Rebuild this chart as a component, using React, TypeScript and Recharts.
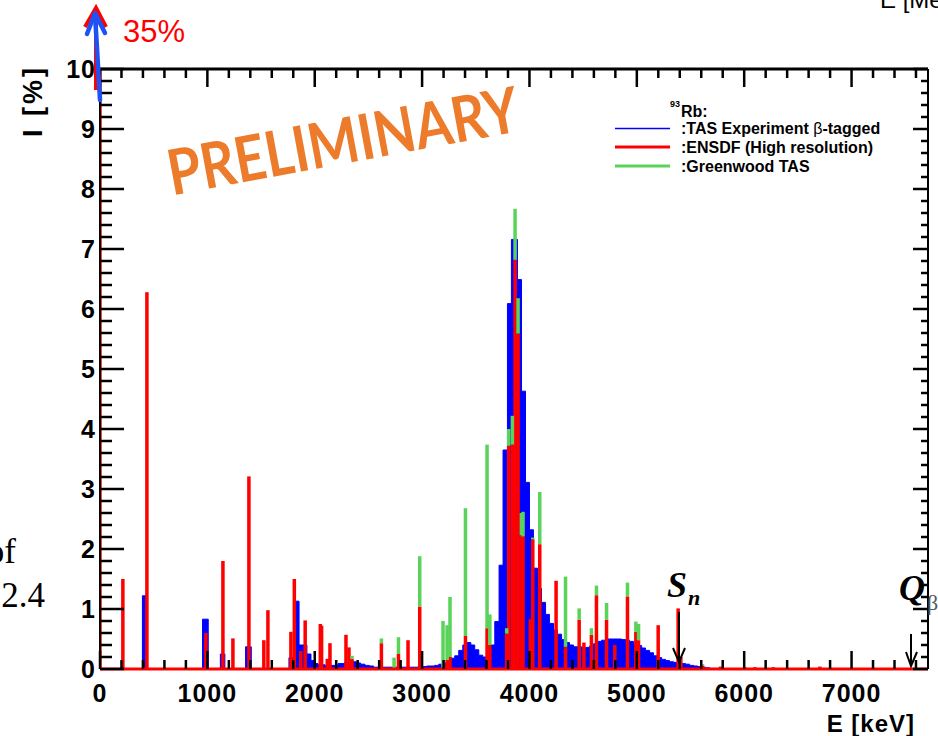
import { ComposedChart, Area, Bar, XAxis, YAxis } from "recharts";

const SANS = '"Liberation Sans", Arial, Helvetica, sans-serif';
const SERIF = '"Liberation Serif", "Times New Roman", serif';

const BLUE = "#0000ff";
const RED = "#ff0000";
const GREEN = "#5ad35a";
const ORANGE = "#ec7b2c";

// TAS experiment (beta-tagged): bin low edge [keV] and intensity [%]
const tasBinStart = [
  0, 395, 433, 955, 1008, 1121, 1163, 1356, 1409, 1760, 1822, 1854, 1927, 1965,
  1997, 2031, 2095, 2217, 2279, 2319, 2359, 2389, 2428, 2468, 2508, 2548, 2965,
  3006, 3043, 3081, 3118, 3155, 3192, 3230, 3267, 3304, 3341, 3379, 3416, 3454,
  3490, 3528, 3565, 3603, 3640, 3677, 3717, 3754, 3795, 3832, 3888, 3926, 3963,
  4000, 4037, 4075, 4112, 4150, 4186, 4224, 4261, 4299, 4336, 4373, 4410, 4448,
  4485, 4522, 4559, 4597, 4634, 4672, 4709, 4746, 4783, 4821, 4858, 4896, 4932,
  4970, 5007, 5045, 5081, 5119, 5156, 5194, 5231, 5268, 5305, 5343, 5380, 5418,
  5454, 5492, 5529, 5567, 5604, 5641, 5678, 5770,
];
const tasIntensity = [
  0, 1.22, 0, 0.83, 0, 0.25, 0, 0.37, 0, 0.19, 1.13, 0.4, 0.25, 0.14,
  0.09, 0.07, 0.06, 0.09, 0.11, 0.13, 0.12, 0.1, 0.08, 0.06, 0.05, 0.03, 0.04,
  0.04, 0.05, 0.05, 0.06, 0.08, 0.1, 0.14, 0.18, 0.22, 0.31, 0.4, 0.44, 0.4,
  0.32, 0.23, 0.2, 0.22, 0.4, 0.79, 1.73, 3.65, 6.09, 7.16, 6.49, 4.63, 3.11,
  2.32, 1.68, 1.34, 1.11, 0.91, 0.76, 0.65, 0.58, 0.49, 0.44, 0.4, 0.37, 0.37,
  0.36, 0.36, 0.38, 0.42, 0.46, 0.48, 0.5, 0.5, 0.5, 0.5, 0.49, 0.48, 0.46,
  0.43, 0.39, 0.35, 0.31, 0.27, 0.22, 0.19, 0.16, 0.14, 0.12, 0.11, 0.1, 0.09,
  0.08, 0.06, 0.05, 0.04, 0.03, 0.02, 0.01, 0,
];

// ENSDF (high resolution) levels [keV] and feeding [%]
const ensdfLevel = [
  0, 213, 437, 986, 1145, 1238, 1387, 1526, 1564, 1778, 1810, 1870, 1911, 2052,
  2064, 2117, 2142, 2291, 2319, 2347, 2621, 2780, 2869, 2978, 3233, 3260, 3404,
  3605, 3631, 3788, 3807, 3841, 3866, 3894, 3925, 3940, 4008, 4031, 4096, 4248,
  4336, 4463, 4507, 4577, 4624, 4718, 4795, 4913, 4991, 5016, 5199, 5385, 5410,
  5612, 5780, 6006, 6100, 6271, 6705,
];
const ensdfIntensity = [
  35, 1.5, 6.28, 0.6, 1.8, 0.51, 3.21, 0.48, 0.98, 0.62, 1.5, 0.3, 0.81, 0.75,
  0.72, 0.17, 0.43, 0.57, 0.36, 0.17, 0.43, 0.25, 0.48, 1.04, 0.15, 0.2, 0.55,
  0.68, 0.4, 0.59, 3.72, 3.74, 6.82, 5.59, 2.23, 2.21, 0.83, 2.16, 2.08, 1.47,
  0.37, 0.82, 0.44, 0.57, 1.23, 0.82, 0.4, 1.21, 0.62, 0.48, 0.73, 1.01, 0.2,
  0.06, 0.04, 0.03, 0.03, 0.03, 0.04,
];

// Greenwood TAS levels [keV] and feeding [%]
const greenwoodLevel = [
  2347, 2621, 2739, 2780, 2978, 3195, 3233, 3260, 3404, 3605, 3631, 3788, 3807,
  3841, 3866, 3894, 3925, 3940, 4031, 4096, 4336, 4463, 4577, 4624, 4718, 4913,
  4991, 5016, 5612,
];
const greenwoodIntensity = [
  0.22, 0.51, 0.19, 0.53, 1.88, 0.8, 0.73, 1.2, 2.68, 3.74, 0.91, 0.68, 4.0,
  4.22, 7.67, 6.18, 2.6, 2.62, 2.19, 2.95, 1.54, 1.01, 0.68, 1.39, 1.1, 1.44,
  0.79, 0.75, 0.08,
];

const xLabels = [0, 1000, 2000, 3000, 4000, 5000, 6000, 7000];
const xTicks = Array.from({ length: 39 }, (_, i) => i * 200);
const yTicks = Array.from({ length: 51 }, (_, i) => i / 5);
const E_MAX = 7712;
const Y_MAX = 10;

// one row per histogram edge or level; green is stacked on top of red
const tasRows = tasBinStart.map((e, i) => ({ e, tas: tasIntensity[i] }));
const levelRows = ensdfLevel.map((e, i) => {
  const j = greenwoodLevel.indexOf(e);
  const red = ensdfIntensity[i];
  const green = j >= 0 ? greenwoodIntensity[j] : 0;
  return { e, ensdf: red, greenwood: Math.max(0, green - red) };
});
const greenOnlyRows = greenwoodLevel
  .map((e, j) => ({ e, ensdf: 0, greenwood: greenwoodIntensity[j] }))
  .filter((r) => !ensdfLevel.includes(r.e));
const data: any[] = [...tasRows, ...levelRows, ...greenOnlyRows].sort(
  (a, b) => a.e - b.e
);

const isWhole = (v: number) => Math.abs(v - Math.round(v)) < 1e-6;

const LevelMark = (props: any) => {
  const { x, y, width, height, fill } = props;
  if (!height || height <= 0) return <g />;
  const w = 3.5;
  return <rect x={x + width / 2 - w / 2} y={y} width={w} height={height} fill={fill} />;
};

const BottomTick = (props: any) => {
  const { x, y, payload } = props;
  const major = xLabels.includes(payload.value);
  return (
    <g>
      <line x1={x} x2={x} y1={y} y2={y - (major ? 18 : 9)} stroke="#000" strokeWidth={2.5} />
      {major && (
        <text x={x} y={y + 33} textAnchor="middle" fontFamily={SANS} fontWeight="bold" fontSize={25} letterSpacing={1} fill="#000">
          {payload.value}
        </text>
      )}
    </g>
  );
};

const TopTick = (props: any) => {
  const { x, y, payload } = props;
  const major = xLabels.includes(payload.value);
  return <line x1={x} x2={x} y1={y} y2={y + (major ? 18 : 9)} stroke="#000" strokeWidth={2.5} />;
};

const LeftTick = (props: any) => {
  const { x, y, payload } = props;
  const major = isWhole(payload.value);
  return (
    <g>
      <line x1={x} x2={x + (major ? 24 : 12)} y1={y} y2={y} stroke="#000" strokeWidth={2.5} />
      {major && (
        <text x={x - 4} y={y + 9} textAnchor="end" fontFamily={SANS} fontWeight="bold" fontSize={25} letterSpacing={1} fill="#000">
          {Math.round(payload.value)}
        </text>
      )}
    </g>
  );
};

const RightTick = (props: any) => {
  const { x, y, payload } = props;
  const major = isWhole(payload.value);
  return <line x1={x} x2={x - (major ? 15 : 7)} y1={y} y2={y} stroke="#000" strokeWidth={2.5} />;
};

function Overlay() {
  const legendText = { fontFamily: SANS, fontWeight: "bold" as const, fontSize: 16, fill: "#000" };
  return (
    <svg width={938} height={736} style={{ position: "absolute", left: 0, top: 0, pointerEvents: "none" }}>
      {/* fragments of the slide around the figure */}
      <text x={16} y={563} textAnchor="end" fontFamily={SERIF} fontSize={35} fill="#000">of</text>
      <text x={45} y={607} textAnchor="end" fontFamily={SERIF} fontSize={35} fill="#000">2.4</text>
      <text x={880} y={8} fontFamily={SANS} fontSize={24} fill="#000">E [MeV]</text>

      <text
        transform="translate(347,163) rotate(-10.5)"
        textAnchor="middle"
        fill={ORANGE}
        fontFamily="Lato, 'Open Sans', sans-serif"
        fontWeight="bold"
        fontSize={63}
        textLength={356}
        lengthAdjust="spacingAndGlyphs"
      >
        PRELIMINARY
      </text>

      {/* ground state feeding off scale */}
      <line x1={96} y1={90} x2={96} y2={12} stroke={RED} strokeWidth={4} />
      <polyline points="85,27 96,8 106,27" fill="none" stroke={RED} strokeWidth={4} />
      <line x1={100} y1={100} x2={95} y2={14} stroke="#1f52f5" strokeWidth={4.5} strokeLinecap="round" />
      <polyline points="87,34 95,13 105,33" fill="none" stroke="#1f52f5" strokeWidth={4.5} strokeLinecap="round" strokeLinejoin="round" />
      <text x={123} y={42} fill={RED} fontFamily={SANS} fontSize={31}>35%</text>

      {/* axis titles */}
      <text transform="translate(42,65) rotate(-90)" textAnchor="end" fontFamily={SANS} fontWeight="bold" fontSize={27} letterSpacing={3} fill="#000">
        I [%]
      </text>
      <text x={915} y={732} textAnchor="end" fontFamily={SANS} fontWeight="bold" fontSize={24} letterSpacing={1} fill="#000">
        E [keV]
      </text>

      {/* legend */}
      <text x={670} y={107} fontFamily={SANS} fontWeight="bold" fontSize={9} fill="#000">93</text>
      <text x={681} y={117} {...legendText}>Rb:</text>
      <line x1={615} x2={670} y1={128.5} y2={128.5} stroke={BLUE} strokeWidth={1.3} />
      <text x={681} y={134} {...legendText}>
        :TAS Experiment <tspan fontWeight="normal">β</tspan>-tagged
      </text>
      <line x1={615} x2={670} y1={147} y2={147} stroke={RED} strokeWidth={3} />
      <text x={681} y={153} {...legendText}>:ENSDF (High resolution)</text>
      <line x1={615} x2={670} y1={166} y2={166} stroke={GREEN} strokeWidth={3} />
      <text x={681} y={172} {...legendText}>:Greenwood TAS</text>

      {/* neutron separation energy and Q value */}
      <text x={667} y={597} fontFamily={SERIF} fontStyle="italic" fontWeight="bold" fontSize={36} fill="#000">S</text>
      <text x={688} y={605} fontFamily={SERIF} fontStyle="italic" fontWeight="bold" fontSize={22} fill="#000">n</text>
      <line x1={679} y1={612} x2={679} y2={662} stroke="#000" strokeWidth={2} />
      <polyline points="673,648 679,662 685,648" fill="none" stroke="#000" strokeWidth={2} />
      <text x={899} y={600} fontFamily={SERIF} fontStyle="italic" fontWeight="bold" fontSize={36} fill="#000">Q</text>
      <text x={927} y={610} fontFamily={SERIF} fontSize={22} fill="#555">β</text>
      <line x1={911} y1={634} x2={911} y2={666} stroke="#000" strokeWidth={2} />
      <polyline points="906,652 911,666 917,652" fill="none" stroke="#000" strokeWidth={2} />
    </svg>
  );
}

export default function App() {
  return (
    <div style={{ position: "absolute", left: 0, top: 0, width: 938, height: 736, background: "#fff" }}>
      <ComposedChart width={938} height={736} data={data} margin={{ top: 0, right: 0, bottom: 0, left: 0 }}>
        <XAxis
          xAxisId="bottom"
          dataKey="e"
          type="number"
          domain={[0, E_MAX]}
          allowDataOverflow
          ticks={xTicks}
          interval={0}
          height={67}
          tickSize={0}
          tickMargin={0}
          tickLine={false}
          axisLine={{ stroke: RED, strokeWidth: 3 }}
          tick={(p: any) => <BottomTick {...p} />}
        />
        <XAxis
          xAxisId="top"
          orientation="top"
          dataKey="e"
          type="number"
          domain={[0, E_MAX]}
          allowDataOverflow
          ticks={xTicks}
          interval={0}
          height={69}
          tickSize={0}
          tickMargin={0}
          tickLine={false}
          axisLine={{ stroke: "#000", strokeWidth: 3 }}
          tick={(p: any) => <TopTick {...p} />}
        />
        <YAxis
          yAxisId="left"
          type="number"
          domain={[0, Y_MAX]}
          allowDataOverflow
          ticks={yTicks}
          interval={0}
          width={100}
          tickSize={0}
          tickMargin={0}
          tickLine={false}
          axisLine={{ stroke: "#000", strokeWidth: 2 }}
          tick={(p: any) => <LeftTick {...p} />}
        />
        <YAxis
          yAxisId="right"
          orientation="right"
          type="number"
          domain={[0, Y_MAX]}
          allowDataOverflow
          ticks={yTicks}
          interval={0}
          width={10}
          tickSize={0}
          tickMargin={0}
          tickLine={false}
          axisLine={{ stroke: "#000", strokeWidth: 2 }}
          tick={(p: any) => <RightTick {...p} />}
        />
        <Area
          xAxisId="bottom"
          yAxisId="left"
          dataKey="tas"
          type="stepAfter"
          fill={BLUE}
          fillOpacity={1}
          stroke={BLUE}
          strokeWidth={1}
          connectNulls
          dot={false}
          activeDot={false}
          isAnimationActive={false}
        />
        <Bar
          xAxisId="bottom"
          yAxisId="left"
          dataKey="ensdf"
          stackId="levels"
          fill={RED}
          barSize={4}
          shape={LevelMark}
          isAnimationActive={false}
        />
        <Bar
          xAxisId="bottom"
          yAxisId="left"
          dataKey="greenwood"
          stackId="levels"
          fill={GREEN}
          barSize={4}
          shape={LevelMark}
          isAnimationActive={false}
        />
      </ComposedChart>
      <Overlay />
    </div>
  );
}
